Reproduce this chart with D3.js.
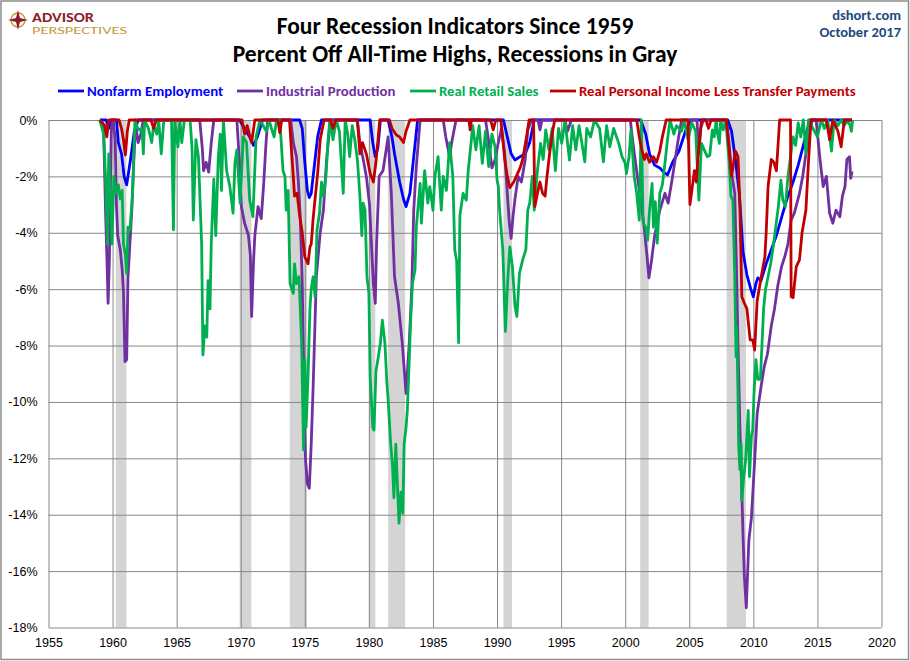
<!DOCTYPE html>
<html>
<head>
<meta charset="utf-8">
<script src="https://cdn.jsdelivr.net/npm/d3@7"></script>
<style>
  body { margin: 0; background: #fff; }
  svg { font-family: Carlito, Calibri, Lato, sans-serif; }
  .grid line { stroke: #878787; stroke-width: 1; }
  .grid path { display: none; }
  .tick text { fill: #000; font-size: 12.5px; }
  .series { fill: none; stroke-width: 2.8; stroke-linejoin: round; }
</style>
</head>
<body>
<div id="chart"></div>
<script>
// Datos: [año decimal, % bajo el máximo histórico]
const employment = [[1959.0,0],[1959.5,0],[1959.7,-0.3],[1959.9,0],[1960.3,0],[1960.45,-0.8],[1960.7,-1.2],[1960.9,-2.0],[1961.1,-2.3],[1961.4,-1.4],[1961.7,-0.4],[1962.0,0],[1969.9,0],[1970.3,-0.3],[1970.7,-0.6],[1971.0,-0.9],[1971.3,-0.6],[1971.7,0],[1974.6,0],[1974.8,-0.3],[1975.0,-1.5],[1975.2,-2.5],[1975.35,-2.75],[1975.5,-2.6],[1975.7,-1.8],[1976.0,-0.6],[1976.3,0],[1980.1,0],[1980.3,-0.8],[1980.5,-1.3],[1980.7,-1.0],[1980.9,0],[1981.5,0],[1981.8,-0.6],[1982.0,-1.2],[1982.4,-2.2],[1982.7,-2.8],[1982.9,-3.07],[1983.2,-2.6],[1983.5,-1.3],[1983.8,0],[1990.5,0],[1990.8,-0.6],[1991.1,-1.2],[1991.4,-1.42],[1991.8,-1.3],[1992.2,-1.2],[1992.55,-0.8],[1992.9,0],[2001.2,0],[2001.6,-0.5],[2001.9,-1.2],[2002.3,-1.6],[2002.7,-1.7],[2003.0,-1.85],[2003.3,-1.95],[2003.7,-1.5],[2004.2,-1.1],[2004.7,-0.4],[2005.1,0],[2008.0,0],[2008.3,-0.4],[2008.6,-1.4],[2008.9,-2.6],[2009.2,-4.7],[2009.5,-5.5],[2009.8,-6.0],[2010.0,-6.27],[2010.2,-5.8],[2010.35,-5.6],[2010.6,-5.7],[2011.0,-5.1],[2011.4,-4.6],[2011.8,-4.1],[2012.3,-3.3],[2012.7,-2.7],[2013.1,-2.2],[2013.5,-1.6],[2013.9,-0.9],[2014.4,0],[2017.7,0]]

const production = [[1959.0,0],[1959.3,-0.3],[1959.45,-3.2],[1959.6,-5.6],[1959.65,-6.5],[1959.75,-5.0],[1959.9,-0.3],[1960.05,0],[1960.2,-0.7],[1960.3,-3.0],[1960.4,-4.1],[1960.6,-4.6],[1960.75,-5.3],[1960.85,-6.1],[1960.97,-8.57],[1961.1,-8.5],[1961.2,-5.6],[1961.35,-4.4],[1961.5,-3.2],[1961.65,-1.5],[1961.8,-0.2],[1962.0,-0.8],[1962.2,-0.5],[1962.4,0],[1966.8,0],[1967.0,-1.0],[1967.1,-1.8],[1967.3,-1.5],[1967.5,-1.85],[1967.7,-0.8],[1967.9,0],[1969.7,0],[1969.9,-1.5],[1970.05,-3.07],[1970.3,-3.66],[1970.6,-4.08],[1970.75,-4.8],[1970.85,-6.97],[1971.0,-5.0],[1971.1,-4.1],[1971.35,-3.07],[1971.6,-3.5],[1971.8,-2.2],[1971.95,-1.0],[1972.1,0],[1973.9,0],[1974.1,-0.8],[1974.35,-1.3],[1974.5,-2.2],[1974.65,-3.5],[1974.8,-5.8],[1974.9,-8.5],[1975.05,-12.0],[1975.2,-12.9],[1975.35,-13.06],[1975.5,-11.5],[1975.65,-9.46],[1975.9,-5.56],[1976.2,-4.0],[1976.45,-3.2],[1976.7,-1.4],[1977.0,0],[1979.1,0],[1979.3,-0.8],[1979.6,-1.5],[1979.8,-2.0],[1980.05,-3.0],[1980.2,-4.4],[1980.35,-5.8],[1980.5,-6.5],[1980.6,-4.4],[1980.8,-2.0],[1981.1,-1.8],[1981.5,-0.6],[1981.75,-2.6],[1982.0,-5.56],[1982.3,-6.5],[1982.6,-7.9],[1982.9,-9.7],[1983.15,-7.9],[1983.35,-5.9],[1983.5,-3.2],[1983.7,-1.65],[1984.0,0],[1985.8,0],[1986.0,-0.6],[1986.3,-1.3],[1986.5,-0.7],[1986.8,0],[1989.1,0],[1989.3,-0.6],[1989.6,-1.7],[1989.85,-1.4],[1990.1,-0.8],[1990.35,-0.3],[1990.6,-1.2],[1990.8,-2.6],[1990.95,-3.6],[1991.1,-4.2],[1991.25,-3.4],[1991.4,-2.8],[1991.65,-2.0],[1991.9,-2.2],[1992.2,-1.4],[1992.4,-0.35],[1992.7,0],[1993.2,0],[1993.35,-0.35],[1993.5,0],[1995.3,0],[1995.5,-0.4],[1995.8,0],[2000.4,0],[2000.6,-0.8],[2000.95,-2.0],[2001.25,-2.95],[2001.5,-3.9],[2001.7,-4.8],[2001.85,-5.6],[2002.05,-5.0],[2002.3,-4.1],[2002.7,-3.2],[2003.1,-2.6],[2003.35,-2.95],[2003.7,-2.0],[2004.1,-0.8],[2004.4,0],[2005.6,0],[2005.75,-1.2],[2005.9,-0.3],[2006.1,0],[2007.9,0],[2008.1,-0.8],[2008.3,-1.9],[2008.55,-2.6],[2008.7,-5.6],[2008.8,-7.9],[2008.95,-10.9],[2009.1,-13.2],[2009.2,-14.8],[2009.3,-16.2],[2009.45,-17.3],[2009.65,-14.9],[2009.85,-14.1],[2010.1,-12.1],[2010.3,-10.4],[2010.6,-9.46],[2010.85,-8.75],[2011.1,-8.3],[2011.4,-7.3],[2011.65,-6.7],[2011.9,-5.9],[2012.2,-5.2],[2012.45,-4.85],[2012.7,-4.4],[2012.95,-3.55],[2013.2,-3.3],[2013.6,-2.6],[2013.85,-2.0],[2014.1,-1.2],[2014.4,-0.35],[2014.6,0],[2014.9,0],[2015.2,-1.4],[2015.45,-2.36],[2015.7,-2.0],[2015.95,-3.3],[2016.2,-3.66],[2016.45,-3.2],[2016.75,-3.43],[2016.95,-2.7],[2017.15,-2.36],[2017.3,-1.4],[2017.5,-1.3],[2017.6,-2.07],[2017.7,-1.83]]

const retail = [[1959.0,0],[1959.3,-0.5],[1959.45,-2.0],[1959.6,-4.4],[1959.7,-1.2],[1959.85,-2.8],[1959.95,-4.4],[1960.1,-2.0],[1960.25,-2.6],[1960.45,-2.3],[1960.6,-2.8],[1960.75,-2.5],[1960.85,-4.4],[1961.0,-4.8],[1961.1,-5.44],[1961.2,-3.8],[1961.35,-3.9],[1961.55,-2.7],[1961.75,0],[1962.0,-0.35],[1962.3,-0.3],[1962.4,-1.2],[1962.5,0],[1962.8,-0.3],[1963.05,-0.8],[1963.2,-0.2],[1963.45,-0.5],[1963.6,0],[1963.8,-1.2],[1964.0,0],[1964.6,0],[1964.75,-3.9],[1964.85,0],[1965.1,-0.95],[1965.25,0],[1965.4,-0.8],[1965.6,0],[1966.05,0],[1966.2,-1.0],[1966.3,-3.55],[1966.5,-0.7],[1966.7,-1.3],[1966.95,-4.4],[1967.05,-8.33],[1967.2,-7.3],[1967.35,-7.7],[1967.45,-5.7],[1967.6,-6.7],[1967.7,-4.4],[1967.9,-2.1],[1968.05,-4.1],[1968.25,-1.3],[1968.4,-0.5],[1968.5,-2.5],[1968.65,0],[1968.9,-1.8],[1969.15,-2.36],[1969.4,-3.3],[1969.55,-1.5],[1969.7,-1.06],[1969.95,-2.95],[1970.2,-0.6],[1970.45,-0.8],[1970.7,-2.84],[1970.95,-3.43],[1971.2,-0.6],[1971.5,0],[1972.0,-0.4],[1972.2,0],[1972.6,-0.6],[1972.8,0],[1973.05,0],[1973.3,-1.8],[1973.45,-2.0],[1973.55,-3.2],[1973.7,-2.5],[1973.85,-5.8],[1974.1,-6.15],[1974.2,-5.1],[1974.35,-5.8],[1974.55,-5.56],[1974.75,-7.9],[1974.9,-11.7],[1975.0,-8.5],[1975.1,-10.9],[1975.25,-9.1],[1975.4,-6.7],[1975.5,-6.0],[1975.65,-5.56],[1975.8,-6.27],[1975.95,-3.9],[1976.15,-3.3],[1976.3,-2.2],[1976.45,-2.7],[1976.65,-2.0],[1976.8,-0.8],[1976.95,0],[1977.2,-0.7],[1977.45,0],[1977.7,-0.4],[1978.0,-2.6],[1978.15,0],[1978.35,-0.5],[1978.5,-1.3],[1978.7,-0.2],[1978.9,-0.7],[1979.1,-1.4],[1979.3,-2.7],[1979.45,-4.1],[1979.55,-2.95],[1979.7,-3.2],[1979.85,-5.56],[1980.0,-6.15],[1980.1,-9.1],[1980.3,-10.9],[1980.4,-11.0],[1980.55,-8.9],[1980.7,-8.5],[1980.9,-7.9],[1981.05,-7.1],[1981.25,-7.9],[1981.4,-9.3],[1981.5,-9.9],[1981.7,-11.5],[1981.85,-12.3],[1981.95,-13.4],[1982.1,-11.5],[1982.2,-12.65],[1982.35,-14.3],[1982.5,-13.2],[1982.65,-13.95],[1982.75,-11.5],[1982.9,-10.9],[1983.0,-10.3],[1983.15,-8.5],[1983.25,-7.2],[1983.4,-5.8],[1983.6,-5.3],[1983.7,-3.8],[1984.0,-2.25],[1984.1,-3.66],[1984.35,-1.8],[1984.6,-2.95],[1984.75,-2.36],[1985.0,-3.2],[1985.15,-2.0],[1985.4,-1.3],[1985.65,-3.2],[1985.8,-2.0],[1986.05,-2.5],[1986.3,-0.8],[1986.55,-2.0],[1986.7,-4.6],[1986.85,-5.0],[1987.0,-7.9],[1987.1,-3.4],[1987.35,-2.6],[1987.6,-2.84],[1987.75,-1.8],[1988.0,-0.7],[1988.1,-0.2],[1988.35,-1.06],[1988.6,-0.2],[1988.85,-1.54],[1989.1,-0.4],[1989.35,-1.65],[1989.6,-0.5],[1989.85,-0.95],[1990.0,-2.13],[1990.1,-2.36],[1990.2,-3.2],[1990.45,-4.6],[1990.65,-7.5],[1990.85,-5.56],[1991.0,-4.5],[1991.2,-5.2],[1991.4,-6.6],[1991.55,-6.97],[1991.75,-5.44],[1992.0,-4.96],[1992.25,-4.6],[1992.4,-3.2],[1992.55,-2.95],[1992.75,-2.0],[1992.9,-3.2],[1993.15,-1.8],[1993.4,-0.83],[1993.6,-1.4],[1993.8,-0.35],[1994.05,-1.06],[1994.3,-0.3],[1994.55,-1.8],[1994.8,-0.3],[1995.05,-0.83],[1995.3,0],[1995.65,-1.42],[1995.9,-0.2],[1996.15,-1.06],[1996.4,-0.2],[1996.85,-1.48],[1997.0,-0.3],[1997.3,-0.6],[1997.6,0],[1998.0,-0.3],[1998.3,-1.48],[1998.55,-0.2],[1998.8,-0.95],[1999.1,-0.3],[1999.5,-0.83],[1999.75,-1.3],[2000.0,-1.54],[2000.1,-1.9],[2000.3,-1.3],[2000.45,-0.35],[2000.7,-2.0],[2000.9,-2.6],[2001.1,-3.55],[2001.25,0],[2001.4,-3.66],[2001.6,-3.8],[2001.75,-4.26],[2001.9,-3.2],[2002.1,-2.25],[2002.2,-3.8],[2002.35,-2.9],[2002.5,-4.37],[2002.7,-2.6],[2002.9,-2.3],[2003.1,-1.54],[2003.3,-0.7],[2003.5,0],[2003.8,-0.5],[2004.0,-0.2],[2004.4,-0.4],[2004.6,0],[2004.9,-0.7],[2005.2,-0.1],[2005.5,-0.4],[2005.75,-2.84],[2005.95,-0.83],[2006.4,-1.3],[2006.6,-1.25],[2006.8,-0.35],[2006.95,-0.6],[2007.1,0],[2007.2,-0.45],[2007.35,-0.83],[2007.45,0],[2007.65,-0.35],[2007.85,0],[2008.1,-1.42],[2008.25,-2.7],[2008.4,-2.84],[2008.55,-5.56],[2008.65,-8.4],[2008.7,-7.33],[2008.8,-9.7],[2008.85,-11.5],[2008.95,-12.4],[2009.05,-11.5],[2009.1,-13.5],[2009.25,-12.65],[2009.4,-12.06],[2009.6,-10.3],[2009.7,-12.65],[2009.85,-11.2],[2009.95,-11.0],[2010.05,-9.7],[2010.2,-8.5],[2010.35,-9.2],[2010.55,-9.2],[2010.7,-7.7],[2010.8,-6.7],[2010.95,-6.0],[2011.15,-5.56],[2011.35,-5.1],[2011.55,-4.5],[2011.75,-3.78],[2011.95,-3.07],[2012.15,-2.13],[2012.3,-2.84],[2012.5,-3.07],[2012.7,-2.0],[2012.9,-1.3],[2013.1,-0.6],[2013.3,-0.9],[2013.5,-0.1],[2013.7,-0.6],[2013.9,0],[2014.1,-1.2],[2014.3,0],[2015.0,-0.6],[2015.3,0],[2015.55,-0.3],[2015.8,0],[2016.1,-1.1],[2016.3,0],[2016.6,-0.2],[2016.85,0],[2017.1,-0.2],[2017.35,0],[2017.55,-0.2],[2017.65,-0.4],[2017.75,0]]

const income = [[1959.0,0],[1959.4,-0.2],[1959.55,-0.6],[1959.7,0],[1960.5,0],[1960.7,-0.3],[1960.85,-0.7],[1961.0,-1.24],[1961.15,-0.4],[1961.3,0],[1963.0,0],[1963.2,-0.3],[1963.4,0],[1970.1,0],[1970.3,-0.5],[1970.5,-0.2],[1970.85,-0.8],[1971.1,0],[1972.9,0],[1973.05,-0.45],[1973.2,0],[1973.8,0],[1973.95,-1.0],[1974.1,-2.0],[1974.2,-2.7],[1974.4,-2.6],[1974.6,-3.4],[1974.8,-4.0],[1975.0,-4.85],[1975.25,-5.1],[1975.4,-4.5],[1975.5,-4.4],[1975.65,-3.5],[1975.8,-2.8],[1976.0,-1.9],[1976.2,-0.7],[1976.5,0],[1977.0,0],[1977.2,-0.3],[1977.4,0],[1979.1,0],[1979.3,-1.2],[1979.5,-0.8],[1979.8,-1.2],[1980.1,-1.9],[1980.35,-2.2],[1980.55,-1.5],[1980.85,0],[1981.6,0],[1981.8,-0.3],[1982.15,-0.53],[1982.4,-0.6],[1982.7,-0.8],[1982.9,-0.4],[1983.2,0],[1987.8,0],[1987.9,-0.35],[1988.0,0],[1989.5,0],[1989.7,-0.35],[1989.9,0],[1990.3,0],[1990.6,-1.4],[1990.8,-2.0],[1991.0,-2.4],[1991.3,-2.2],[1991.5,-2.0],[1991.8,-1.7],[1992.0,-1.4],[1992.3,-0.6],[1992.5,0],[1992.85,0],[1992.95,-3.07],[1993.2,-2.5],[1993.35,-2.2],[1993.55,-2.6],[1993.75,-2.7],[1993.9,-2.0],[1994.1,-1.2],[1994.3,-0.5],[1994.5,0],[2000.9,0],[2001.1,-0.6],[2001.3,-1.06],[2001.5,-1.4],[2001.65,-1.2],[2001.9,-1.5],[2002.2,-1.3],[2002.45,-1.5],[2002.7,-1.1],[2002.9,-0.6],[2003.2,0],[2004.9,0],[2005.05,-3.0],[2005.2,-2.5],[2005.4,-1.8],[2005.55,-2.2],[2005.7,-1.2],[2005.95,0],[2006.3,0],[2006.5,-0.3],[2006.7,0],[2007.9,0],[2008.1,-1.0],[2008.3,-2.0],[2008.4,-1.7],[2008.6,-1.1],[2008.8,-1.3],[2008.95,-3.0],[2009.1,-6.27],[2009.3,-6.5],[2009.5,-6.7],[2009.75,-7.8],[2009.95,-7.8],[2010.1,-8.16],[2010.3,-6.4],[2010.6,-5.6],[2010.9,-4.85],[2011.0,-4.0],[2011.15,-2.36],[2011.4,-1.4],[2011.6,-1.5],[2011.8,-1.8],[2012.05,0],[2012.9,0],[2012.95,-6.27],[2013.1,-6.3],[2013.35,-5.2],[2013.6,-4.96],[2013.8,-4.0],[2014.1,-3.2],[2014.3,-1.5],[2014.5,0],[2015.7,0],[2015.95,-0.7],[2016.2,0],[2016.6,-0.4],[2016.85,-0.95],[2017.1,0],[2017.7,0]]

// Recesiones NBER (inicio, fin)
const recessions = [[1960.25,1961.08],[1969.92,1970.83],[1973.83,1975.17],[1980.0,1980.5],[1981.5,1982.83],[1990.5,1991.17],[2001.17,2001.83],[2007.92,2009.42]]

const seriesNames = ["Nonfarm Employment", "Industrial Production", "Real Retail Sales", "Real Personal Income Less Transfer Payments"]
const seriesColors = ["#0000ff", "#7030a0", "#00b050", "#c00000"]
const seriesData = [employment, production, retail, income]

const yearTicks = d3.range(1955, 2021, 5)
const pctTicks = d3.range(-18, 1, 2)

const width = 910
const height = 661
const plot = { left: 48.5, right: 881.5, top: 120, bottom: 627.5 }

const svg = d3.select("#chart").append("svg")
    .attr("width", width)
    .attr("height", height)

// Marco exterior
svg.append("rect")
    .attr("x", 1).attr("y", 1)
    .attr("width", width - 2.5).attr("height", height - 2.5)
    .attr("fill", "#fff")
    .attr("stroke", "#8c8c8c")
    .attr("stroke-width", 1.5)

const x = d3.scaleLinear().domain([1955, 2020]).range([plot.left, plot.right])
const y = d3.scaleLinear().domain([-18, 0]).range([plot.bottom, plot.top])

// Bandas de recesión
svg.append("g").selectAll("rect")
    .data(recessions)
    .join("rect")
    .attr("x", d => x(d[0]))
    .attr("y", plot.top)
    .attr("width", d => x(d[1]) - x(d[0]))
    .attr("height", plot.bottom - plot.top)
    .attr("fill", "#d4d4d4")

// Rejilla y ejes
const yAxis = d3.axisLeft(y).tickValues(pctTicks).tickFormat(d => `${d}%`)
    .tickSize(-(plot.right - plot.left)).tickPadding(11)
svg.append("g").attr("class", "grid")
    .attr("transform", `translate(${plot.left},0)`)
    .call(yAxis)

const xAxis = d3.axisBottom(x).tickValues(yearTicks).tickFormat(d3.format("d"))
    .tickSize(-(plot.bottom - plot.top)).tickPadding(11)
svg.append("g").attr("class", "grid")
    .attr("transform", `translate(0,${plot.bottom})`)
    .call(xAxis)

// Líneas
const line = d3.line().x(d => x(d[0])).y(d => y(d[1]))
svg.append("g").selectAll("path")
    .data(seriesData)
    .join("path")
    .attr("class", "series")
    .attr("stroke", (d, i) => seriesColors[i])
    .attr("d", line)

// Títulos
svg.append("text")
    .attr("x", 455).attr("y", 34)
    .attr("text-anchor", "middle")
    .attr("font-size", 23.5).attr("font-weight", "bold")
    .text("Four Recession Indicators Since 1959")
svg.append("text")
    .attr("x", 455).attr("y", 62)
    .attr("text-anchor", "middle")
    .attr("font-size", 23.5).attr("font-weight", "bold")
    .text("Percent Off All-Time Highs, Recessions in Gray")

svg.append("text")
    .attr("x", 901).attr("y", 20)
    .attr("text-anchor", "end")
    .attr("font-size", 14.5).attr("font-weight", "bold")
    .attr("fill", "#1f497d")
    .text("dshort.com")
svg.append("text")
    .attr("x", 901).attr("y", 37)
    .attr("text-anchor", "end")
    .attr("font-size", 14.5).attr("font-weight", "bold")
    .attr("fill", "#1f497d")
    .text("October 2017")

// Logo
const logo = svg.append("g")
logo.append("circle").attr("cx", 18).attr("cy", 20).attr("r", 7)
    .attr("fill", "none").attr("stroke", "#c49a3c").attr("stroke-width", 1.5)
logo.append("path")
    .attr("d", "M18,10 L20,18 L28,20 L20,22 L18,30 L16,22 L8,20 L16,18 Z")
    .attr("fill", "#8c1c2c")
logo.append("text")
    .attr("x", 32).attr("y", 21.5)
    .attr("font-size", 13).attr("font-weight", "bold")
    .attr("fill", "#8c1c2c")
    .attr("textLength", 62).attr("lengthAdjust", "spacingAndGlyphs")
    .text("ADVISOR")
logo.append("text")
    .attr("x", 32).attr("y", 34)
    .attr("font-size", 9.5)
    .attr("fill", "#c49a3c")
    .attr("textLength", 95).attr("lengthAdjust", "spacingAndGlyphs")
    .text("PERSPECTIVES")

// Leyenda
const legendX = [58, 237, 410, 550]
const legend = svg.append("g").selectAll("g")
    .data(seriesNames)
    .join("g")
    .attr("transform", (d, i) => `translate(${legendX[i]},91)`)
legend.append("line")
    .attr("x1", 0).attr("x2", 26)
    .attr("stroke", (d, i) => seriesColors[i])
    .attr("stroke-width", 2.8)
legend.append("text")
    .attr("x", 29).attr("dy", "0.35em")
    .attr("font-size", 14.8).attr("font-weight", "bold")
    .attr("fill", (d, i) => seriesColors[i])
    .text(d => d)
</script>
</body>
</html>
